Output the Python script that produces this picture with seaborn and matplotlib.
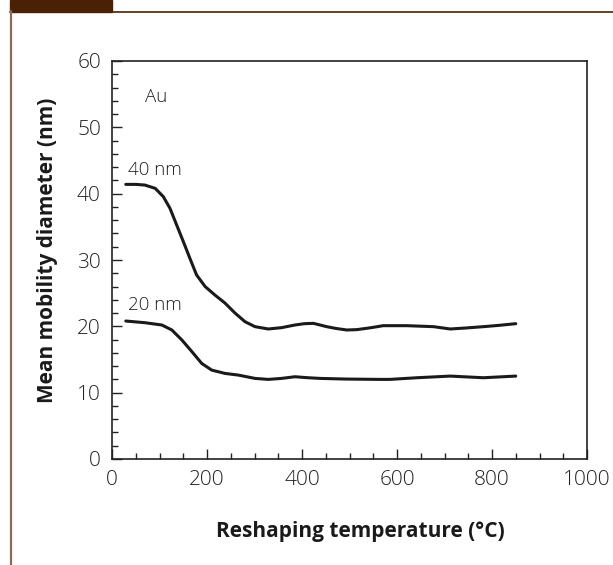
import matplotlib
matplotlib.use("Agg")
import matplotlib.pyplot as plt
import seaborn as sns
import pandas as pd
from matplotlib.ticker import MultipleLocator
from matplotlib.patches import Rectangle
from matplotlib.lines import Line2D

# ---- data ----
temp_40 = [29, 50, 69, 91, 108, 122, 136, 150, 164, 178, 196, 217, 238, 259, 280,
           301, 329, 357, 385, 405, 424, 452, 470, 494, 515, 536, 550, 571, 620,
           677, 712, 745, 782, 815, 850]
diam_40 = [41.4, 41.4, 41.3, 40.8, 39.55, 37.8, 35.3, 32.8, 30.25, 27.75, 26.0,
           24.7, 23.5, 22.0, 20.7, 19.95, 19.6, 19.8, 20.2, 20.4, 20.45, 19.95,
           19.7, 19.45, 19.5, 19.7, 19.85, 20.1, 20.1, 19.95, 19.6, 19.75, 19.95,
           20.15, 20.4]
temp_20 = [29, 69, 105, 126, 147, 168, 189, 210, 238, 266, 301, 329, 357, 385,
           413, 438, 494, 564, 585, 642, 712, 782, 850]
diam_20 = [20.8, 20.55, 20.2, 19.45, 17.95, 16.2, 14.4, 13.4, 12.9, 12.65, 12.15,
           12.0, 12.15, 12.4, 12.25, 12.15, 12.05, 12.0, 12.0, 12.25, 12.5, 12.25,
           12.5]

series_labels = ["40 nm", "20 nm"]
material_label = "Au"
x_label = "Reshaping temperature (°C)"
y_label = "Mean mobility diameter (nm)"

df = pd.concat([
    pd.DataFrame({"T": temp_40, "D": diam_40, "size": series_labels[0]}),
    pd.DataFrame({"T": temp_20, "D": diam_20, "size": series_labels[1]}),
])

sns.set_style("ticks")
plt.rcParams["font.family"] = ["Open Sans", "DejaVu Sans"]

W, H = 613, 565
fig = plt.figure(figsize=(W / 100, H / 100), dpi=100)
ax = fig.add_axes([112 / W, 1 - 459 / H, 475 / W, 398 / H])

sns.lineplot(data=df, x="T", y="D", hue="size", palette=["#1a1a1a", "#1a1a1a"],
             linewidth=2.2, legend=False, ax=ax, sort=False,
             solid_joinstyle="round", solid_capstyle="round")

ax.set_xlim(0, 1000)
ax.set_ylim(0, 60)
ax.xaxis.set_major_locator(MultipleLocator(200))
ax.xaxis.set_minor_locator(MultipleLocator(50))
ax.yaxis.set_major_locator(MultipleLocator(10))
ax.yaxis.set_minor_locator(MultipleLocator(2))
ax.tick_params(which="both", direction="in", top=False, right=False,
               color="#222222", width=1.0)
ax.tick_params(which="major", length=7, labelsize=15, pad=8, labelcolor="#222222")
ax.tick_params(which="minor", length=4)
for lab in ax.get_xticklabels() + ax.get_yticklabels():
    lab.set_fontweight("light")
for s in ax.spines.values():
    s.set_visible(True)
    s.set_linewidth(1.2)
    s.set_color("#222222")

ax.set_xlabel(x_label, fontsize=15, fontweight="bold", color="#1a1a1a")
ax.set_ylabel(y_label, fontsize=15, fontweight="bold", color="#1a1a1a")
ax.xaxis.set_label_coords(0.522, -0.155)
ax.yaxis.set_label_coords(-0.113, 0.525)

ax.text(70, 54.6, material_label, fontsize=13.5, color="#222222", va="center",
        fontweight="light")
ax.text(34, 43.6, series_labels[0], fontsize=13.5, color="#222222", va="center",
        fontweight="light")
ax.text(34, 23.2, series_labels[1], fontsize=13.5, color="#222222", va="center",
        fontweight="light")

# page decoration
fig.patches.append(Rectangle((10 / W, 1 - 12 / H), 102 / W, 12 / H,
                             transform=fig.transFigure, color="#4a2104", zorder=0))
fig.lines.append(Line2D([10 / W, 1], [1 - 11.5 / H, 1 - 11.5 / H],
                        transform=fig.transFigure, color="#4a2104", linewidth=1.2))
fig.lines.append(Line2D([11 / W, 11 / W], [0, 1 - 11 / H],
                        transform=fig.transFigure, color="#8c6a55", linewidth=1.6))

fig.savefig("out.png", dpi=100)
